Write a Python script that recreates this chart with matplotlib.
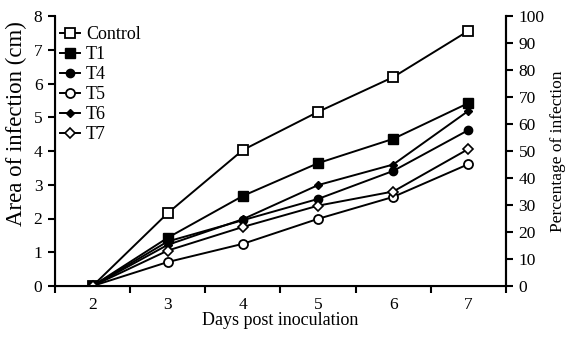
import matplotlib
matplotlib.use("Agg")
import matplotlib.pyplot as plt

days = [2, 3, 4, 5, 6, 7]
control = [0, 2.16, 4.03, 5.16, 6.19, 7.56]
t1 = [0, 1.43, 2.67, 3.64, 4.36, 5.42]
t4 = [0, 1.32, 1.95, 2.58, 3.41, 4.62]
t5 = [0, 0.71, 1.25, 1.99, 2.64, 3.61]
t6 = [0, 1.22, 1.98, 2.99, 3.60, 5.19]
t7 = [0, 1.05, 1.75, 2.38, 2.80, 4.06]
series_names = ["Control", "T1", "T4", "T5", "T6", "T7"]
left_ticks = [0, 1, 2, 3, 4, 5, 6, 7, 8]
right_ticks = [0, 10, 20, 30, 40, 50, 60, 70, 80, 90, 100]

plt.rcParams['font.family'] = ['Liberation Serif', 'DejaVu Serif']
plt.rcParams['font.size'] = 12.5

fig = plt.figure(figsize=(5.66, 3.39), dpi=100)
ax = fig.add_axes([55/566, 1-286/339, (506-55)/566, (286-16)/339])

styles = [
    dict(marker='s', mfc='white', ms=6.5, mew=1.3),
    dict(marker='s', mfc='black', ms=6.5, mew=1.0),
    dict(marker='o', mfc='black', ms=6, mew=1.0),
    dict(marker='o', mfc='white', ms=6.5, mew=1.3),
    dict(marker='D', mfc='black', ms=4.5, mew=1.0),
    dict(marker='D', mfc='white', ms=5, mew=1.2),
]
data = [control, t1, t4, t5, t6, t7]
for name, vals, st in zip(series_names, data, styles):
    ax.plot(days, vals, color='black', lw=1.4, mec='black', label=name, **st)

ax.set_xlim(1.5, 7.5)
ax.set_ylim(0, 8)
ax.set_yticks(left_ticks)
ax.set_xticks(days)
ax.set_xticks([1.5 + i for i in range(7)], minor=True)
ax.tick_params(axis='x', which='major', length=0, pad=8, labelsize=12.5)
ax.tick_params(axis='x', which='minor', length=5, width=1.5, direction='out')
ax.tick_params(axis='y', length=5, width=1.5, direction='out', pad=4, labelsize=12.5)
ax.spines['top'].set_visible(False)
for s in ['left', 'bottom', 'right']:
    ax.spines[s].set_linewidth(1.5)
ax.set_xlabel("Days post inoculation", fontsize=13, labelpad=-1)
ax.set_ylabel("Area of infection (cm)", fontsize=16.5)
ax.yaxis.set_label_coords(-0.062, (286 - 124) / 270)

ax2 = ax.twinx()
ax2.set_ylim(0, 100)
ax2.set_yticks(right_ticks)
ax2.tick_params(axis='y', length=5, width=1.5, direction='out', pad=4, labelsize=12.5)
ax2.spines['top'].set_visible(False)
ax2.spines['right'].set_linewidth(1.5)
ax2.set_ylabel("Percentage of infection", fontsize=12.5, labelpad=4)

leg = ax.legend(loc='upper left', bbox_to_anchor=(60/566, 1-26/339),
                bbox_transform=fig.transFigure, frameon=False,
                handlelength=1.1, handletextpad=0.35, labelspacing=0.17,
                borderaxespad=0.0, borderpad=0.0, fontsize=13)

fig.savefig("out.png", dpi=100)
